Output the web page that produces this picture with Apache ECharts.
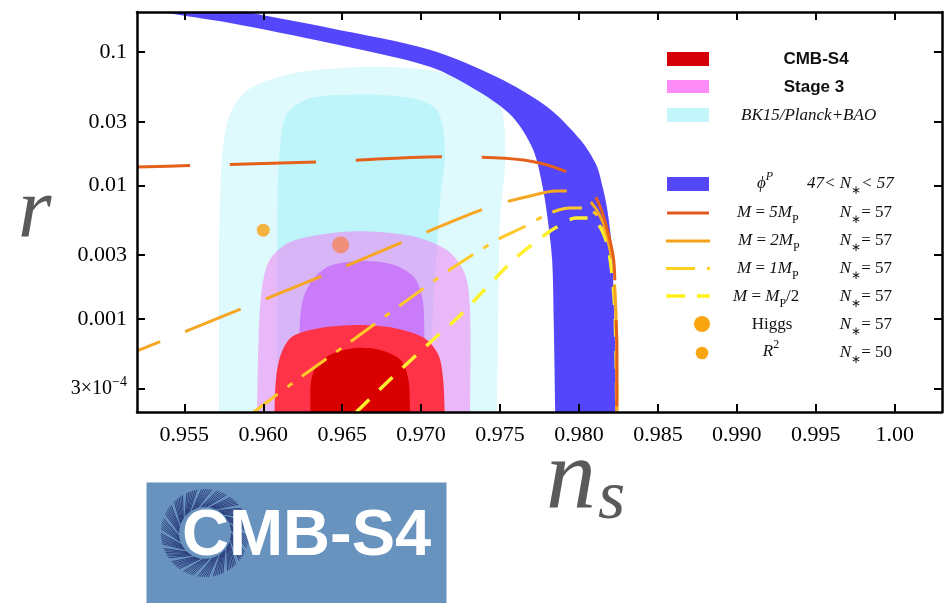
<!DOCTYPE html>
<html><head><meta charset="utf-8">
<script src="https://cdn.jsdelivr.net/npm/echarts@6/dist/echarts.min.js"></script>
<style>html,body{margin:0;padding:0;background:#fff}#c{width:947px;height:603px}</style>
</head><body><div id="c"></div>
<script>
// ---------- tick values ----------
const xTicks = [0.955, 0.960, 0.965, 0.970, 0.975, 0.980, 0.985, 0.990, 0.995, 1.000];
const yTicks = [3e-4, 0.001, 0.003, 0.01, 0.03, 0.1];

// ---------- filled regions [n_s, r] ----------
const bk15Outer = [[0.9572,1.5e-4],[0.9572,1.8e-4],[0.9572,0.00328],[0.9573,0.0110],[0.9575,0.0219],[0.9580,0.0368],[0.9592,0.0538],[0.9617,0.0686],[0.9649,0.0760],[0.9680,0.0774],[0.9712,0.0710],[0.9737,0.0567],[0.9750,0.0401],[0.9753,0.0261],[0.9753,0.0131],[0.9750,0.0055],[0.9749,0.00138],[0.9748,1.8e-4],[0.9748,1.5e-4]];
const bk15Inner = [[0.9609,1.5e-4],[0.9609,1.8e-4],[0.9609,0.00778],[0.9611,0.0219],[0.9614,0.0326],[0.9619,0.0388],[0.9630,0.0453],[0.9649,0.0477],[0.9674,0.0477],[0.9699,0.0438],[0.9710,0.0368],[0.9714,0.0261],[0.9715,0.0155],[0.9712,0.00778],[0.9710,0.00328],[0.9707,0.00082],[0.9707,1.8e-4],[0.9707,1.5e-4]];
const stage3Outer = [[0.9596,1.5e-4],[0.9596,1.8e-4],[0.9597,0.00069],[0.9599,0.00164],[0.9604,0.00276],[0.9617,0.00377],[0.9649,0.00448],[0.9674,0.00448],[0.9699,0.00404],[0.9718,0.00317],[0.9728,0.00213],[0.9731,0.00116],[0.9731,1.8e-4],[0.9731,1.5e-4]];
const stage3Inner = [[0.9623,1.5e-4],[0.9623,1.8e-4],[0.9623,0.00082],[0.9625,0.00138],[0.9631,0.00195],[0.9642,0.00249],[0.9663,0.00271],[0.9683,0.00253],[0.9696,0.00202],[0.9701,0.00138],[0.9702,0.00082],[0.9702,1.8e-4],[0.9702,1.5e-4]];
const s4Outer = [[0.9607,1.5e-4],[0.9607,1.8e-4],[0.9608,0.000348],[0.9611,0.000535],[0.9618,0.00073],[0.9636,0.000853],[0.9661,0.000899],[0.9683,0.000853],[0.9702,0.000718],[0.9711,0.000535],[0.9714,0.000348],[0.9715,1.8e-4],[0.9715,1.5e-4]];
const s4Inner = [[0.9630,1.5e-4],[0.9630,1.8e-4],[0.9630,0.000319],[0.9633,0.000428],[0.9642,0.000535],[0.9658,0.000604],[0.9674,0.000583],[0.9687,0.000491],[0.9692,0.000348],[0.9693,1.8e-4],[0.9693,1.5e-4]];
const phiBand = [[0.9570,0.2257],[0.9590,0.2],[0.9642,0.1517],[0.9706,0.1038],[0.9748,0.0651],[0.9780,0.0388],[0.9801,0.0219],[0.9811,0.01424],[0.9815,0.00974],[0.9818,0.00655],[0.9821,0.00328],[0.9822,0.00138],[0.9823,0.000583],[0.98235,1.8e-4],[0.98235,1.5e-4],
  [0.9785,1.5e-4],[0.9785,1.8e-4],[0.9784,0.00098],[0.9783,0.00276],[0.9780,0.0058],[0.9777,0.00974],[0.9771,0.0185],[0.9758,0.0326],[0.9737,0.0502],[0.9706,0.0774],[0.9642,0.1171],[0.9579,0.1654],[0.9536,0.2],[0.9520,0.2257]];

// ---------- curves [n_s, r] ----------
const m5 = [[0.9520,0.01376],[0.9554,0.01411],[0.9635,0.0150],[0.9715,0.0164],[0.9765,0.0155],[0.9794,0.0124],[0.9807,0.00957],[0.9813,0.00714],[0.9818,0.00464],[0.9822,0.00276],[0.9823,0.00138],[0.9824,0.000583],[0.9824,0.0002]];
const m2 = [[0.9520,0.000574],[0.9584,0.00116],[0.9634,0.00202],[0.9684,0.00358],[0.9733,0.00622],[0.9749,0.00726],[0.9769,0.00834],[0.9785,0.00909],[0.9793,0.00909],[0.9801,0.00848],[0.9808,0.00739],[0.9813,0.00601],[0.9818,0.00425],[0.9821,0.00267],[0.9823,0.00138],[0.9824,0.000583],[0.9824,0.0002]];
const m1 = [[0.9594,0.0002],[0.9623,0.00036],[0.9655,0.00067],[0.9687,0.001269],[0.9718,0.00232],[0.9748,0.0039],[0.9765,0.00488],[0.9779,0.00601],[0.9787,0.00655],[0.9794,0.00678],[0.9803,0.00678],[0.9810,0.00622],[0.9815,0.00505],[0.9819,0.00358],[0.9822,0.00232],[0.9823,0.00138],[0.9824,0.000583],[0.9824,0.0002]];
const mHalf = [[0.9659,0.0002],[0.9682,0.000366],[0.9706,0.00067],[0.9725,0.001068],[0.9737,0.00151],[0.9760,0.00286],[0.9780,0.0044],[0.9786,0.00488],[0.9798,0.0057],[0.9806,0.0057],[0.9813,0.00497],[0.9818,0.00358],[0.9821,0.00213],[0.9823,0.00098],[0.9824,0.0002]];

// ---------- points ----------
const higgs = [[0.9649, 0.00358]];
const r2 = [[0.9600, 0.00462]];

function region(pts, color, z) {
  return {
    type: 'custom', coordinateSystem: 'cartesian2d', clip: true, silent: true, z: z,
    data: pts,
    renderItem: function (params, api) {
      if (params.dataIndex !== 0) return null;
      return { type: 'polygon', shape: { points: pts.map(function (p) { return api.coord(p); }), smooth: 0.3 },
               style: { fill: color } };
    }
  };
}
function curve(pts, color, dash, offset, z, w) {
  return { type: 'line', data: pts, showSymbol: false, symbol: 'none', smooth: 0.3, clip: true, silent: true, z: z,
    lineStyle: { color: color, width: w || 3, type: dash, dashOffset: offset, cap: 'butt' } };
}

const serif = 'Liberation Serif';
const axisCommon = {
  axisLine: { show: true, onZero: false, lineStyle: { color: '#000', width: 2.5 } },
  splitLine: { show: false },
  z: 20
};

const mathRich = {
  i: { fontFamily: serif, fontStyle: 'italic', fontSize: 17, lineHeight: 26, verticalAlign: 'middle', fill: '#111' },
  n: { fontFamily: serif, fontSize: 17, lineHeight: 26, verticalAlign: 'middle', fill: '#111' },
  sub: { fontFamily: serif, fontSize: 12, lineHeight: 12, verticalAlign: 'bottom', fill: '#111' },
  sup: { fontFamily: serif, fontStyle: 'italic', fontSize: 12, lineHeight: 12, verticalAlign: 'top', fill: '#111' },
  supn: { fontFamily: serif, fontSize: 12, lineHeight: 12, verticalAlign: 'top', fill: '#111' },
  b: { fontFamily: 'Liberation Sans', fontWeight: 'bold', fontSize: 17, lineHeight: 26, verticalAlign: 'middle', fill: '#111' }
};
function txt(x, y, text, align) {
  return { type: 'text', x: x, y: y, z: 50, style: { text: text, rich: mathRich, align: align || 'left', verticalAlign: 'middle', fill: '#111', font: '17px "Liberation Serif"' } };
}

const graphics = [];
// legend swatches
graphics.push({ type: 'rect', z: 50, shape: { x: 667, y: 52, width: 42, height: 14 }, style: { fill: '#d6000b' } });
graphics.push({ type: 'rect', z: 50, shape: { x: 667, y: 80, width: 42, height: 13 }, style: { fill: '#ff8cf6' } });
graphics.push({ type: 'rect', z: 50, shape: { x: 667, y: 108, width: 42, height: 14 }, style: { fill: '#c3f6fb' } });
graphics.push({ type: 'rect', z: 50, shape: { x: 667, y: 177, width: 42, height: 14 }, style: { fill: '#5347f7' } });
graphics.push({ type: 'line', z: 50, shape: { x1: 667, y1: 213, x2: 709, y2: 213 }, style: { stroke: '#e35b1c', lineWidth: 3 } });
graphics.push({ type: 'line', z: 50, shape: { x1: 666, y1: 241, x2: 710, y2: 241 }, style: { stroke: '#f5a11c', lineWidth: 3 } });
graphics.push({ type: 'line', z: 50, shape: { x1: 666, y1: 268.5, x2: 695, y2: 268.5 }, style: { stroke: '#ffd11c', lineWidth: 3 } });
graphics.push({ type: 'line', z: 50, shape: { x1: 707, y1: 268.5, x2: 710, y2: 268.5 }, style: { stroke: '#ffd11c', lineWidth: 3 } });
graphics.push({ type: 'line', z: 50, shape: { x1: 666, y1: 296, x2: 685, y2: 296 }, style: { stroke: '#fff01a', lineWidth: 3.5 } });
graphics.push({ type: 'line', z: 50, shape: { x1: 697, y1: 296, x2: 710, y2: 296 }, style: { stroke: '#fff01a', lineWidth: 3.5 } });
graphics.push({ type: 'circle', z: 50, shape: { cx: 702, cy: 324, r: 8 }, style: { fill: '#f9a510' } });
graphics.push({ type: 'circle', z: 50, shape: { cx: 702, cy: 353, r: 6.3 }, style: { fill: '#f9a510' } });
// legend texts
graphics.push(txt(816, 59, '{b|CMB-S4}', 'center'));
graphics.push(txt(814, 87, '{b|Stage 3}', 'center'));
graphics.push(txt(741, 116, '{i|BK15/Planck+BAO}'));
graphics.push(txt(757, 184, '{i|ϕ}{sup|P}'));
graphics.push(txt(807, 184, '{i|47< N}{sub|∗}{i|< 57}'));
graphics.push(txt(737, 213, '{i|M} {n|=} {i|5M}{sub|P}'));
graphics.push(txt(738, 241, '{i|M} {n|=} {i|2M}{sub|P}'));
graphics.push(txt(737, 269, '{i|M} {n|=} {i|1M}{sub|P}'));
graphics.push(txt(733, 297, '{i|M} {n|=} {i|M}{sub|P}{n|/2}'));
graphics.push(txt(772, 325, '{n|Higgs}', 'center'));
graphics.push(txt(771, 352, '{i|R}{supn|2}', 'center'));
['57','57','57','57','57','50'].forEach(function (v, k) {
  graphics.push(txt(892, [213, 241, 269, 297, 325, 353][k], '{i|N}{sub|∗}{n|= ' + v + '}', 'right'));
});
// axis titles
graphics.push({ type: 'text', x: 18, y: 214, z: 50, style: { text: 'r', font: 'italic 86px "Liberation Serif"', fill: '#5a5a5a', align: 'left', verticalAlign: 'middle' } });
graphics.push({ type: 'text', x: 546, y: 481, z: 50, style: { text: 'n', font: 'italic 100px "Liberation Serif"', fill: '#5a5a5a', align: 'left', verticalAlign: 'middle' } });
graphics.push({ type: 'text', x: 598, y: 500, z: 50, style: { text: 's', font: 'italic 70px "Liberation Serif"', fill: '#5a5a5a', align: 'left', verticalAlign: 'middle' } });
// logo
graphics.push({ type: 'rect', z: 40, shape: { x: 146.5, y: 482.5, width: 300, height: 121 }, style: { fill: '#6993bf' } });
for (let g = 0; g < 18; g++) {
  for (let j = 0; j < 6; j++) {
    const a = (g / 18 + j * 0.0075) * 2 * Math.PI, a2 = a + 0.45;
    graphics.push({ type: 'line', z: 41, shape: { x1: 205 + 26 * Math.cos(a), y1: 533 + 26 * Math.sin(a), x2: 205 + 44 * Math.cos(a2), y2: 533 + 44 * Math.sin(a2) },
      style: { stroke: '#1d2b6c', lineWidth: 0.8 } });
  }
}
graphics.push({ type: 'text', x: 182, y: 537, z: 42, style: { text: 'CMB-S4', font: 'bold 65px "Liberation Sans"', fill: '#ffffff', align: 'left', verticalAlign: 'middle' } });

const chart = echarts.init(document.getElementById('c'), null, { renderer: 'canvas' });
chart.setOption({
  animation: false,
  backgroundColor: '#ffffff',
  grid: { left: 137, top: 12, width: 805, height: 400, show: false },
  xAxis: [
    Object.assign({}, axisCommon, {
      type: 'value', min: 0.952, max: 1.003, position: 'bottom',
      axisTick: { show: true, inside: true, length: 8, customValues: xTicks, lineStyle: { color: '#000', width: 2 } },
      axisLabel: { show: true, customValues: xTicks, margin: 12, fontFamily: serif, fontSize: 22, color: '#000',
        formatter: function (v) { return Math.abs(v - 1) < 1e-9 ? '1.00' : v.toFixed(3); } }
    }),
    Object.assign({}, axisCommon, {
      type: 'value', min: 0.952, max: 1.003, position: 'top',
      axisTick: { show: true, inside: true, length: 8, customValues: xTicks, lineStyle: { color: '#000', width: 2 } },
      axisLabel: { show: false }
    })
  ],
  yAxis: [
    Object.assign({}, axisCommon, {
      type: 'log', logBase: 10, min: 2e-4, max: 0.2, position: 'left',
      axisTick: { show: true, inside: true, length: 8, customValues: yTicks, lineStyle: { color: '#000', width: 2 } },
      axisLabel: { show: true, customValues: yTicks, margin: 10, fontFamily: serif, fontSize: 22, color: '#000',
        formatter: function (v) {
          if (v < 5e-4) {
            const e = Math.floor(Math.log10(v) + 1e-9);
            const m = Math.round(v / Math.pow(10, e));
            return '{m|' + m + '×10}{s|' + String(e).replace('-', '−') + '}';
          }
          return String(+v.toPrecision(2));
        },
        rich: {
          m: { fontFamily: serif, fontSize: 20, color: '#000', lineHeight: 26, verticalAlign: 'middle' },
          s: { fontFamily: serif, fontSize: 14, color: '#000', lineHeight: 14, verticalAlign: 'top' }
        }
      }
    }),
    Object.assign({}, axisCommon, {
      type: 'log', logBase: 10, min: 2e-4, max: 0.2, position: 'right',
      axisTick: { show: true, inside: true, length: 8, customValues: yTicks, lineStyle: { color: '#000', width: 2 } },
      axisLabel: { show: false }
    })
  ],
  series: [
    region(bk15Outer, '#dffafd', 1),
    region(bk15Inner, '#bdf5fa', 2),
    { type: 'scatter', data: r2, symbolSize: 13, itemStyle: { color: '#f8a30f' }, z: 3, silent: true },
    region(stage3Outer, 'rgba(246,105,242,0.45)', 4),
    { type: 'scatter', data: higgs, symbolSize: 17, itemStyle: { color: '#f5845a' }, z: 5, silent: true },
    region(stage3Inner, '#c97bfa', 5),
    region(s4Outer, '#ff3347', 6),
    region(s4Inner, '#d90000', 7),
    region(phiBand, '#5447fb', 8),
    curve(m5, '#e5601a', [86, 40], 33, 12),
    curve(m2, '#f5a623', [60, 27], 35, 11),
    curve(m1, '#ffc82a', [30, 12, 6, 12], 0, 10),
    curve(mHalf, '#fff02e', [18, 14], 0, 9, 3.5)
  ],
  graphic: { elements: graphics }
});
</script>
</body></html>
